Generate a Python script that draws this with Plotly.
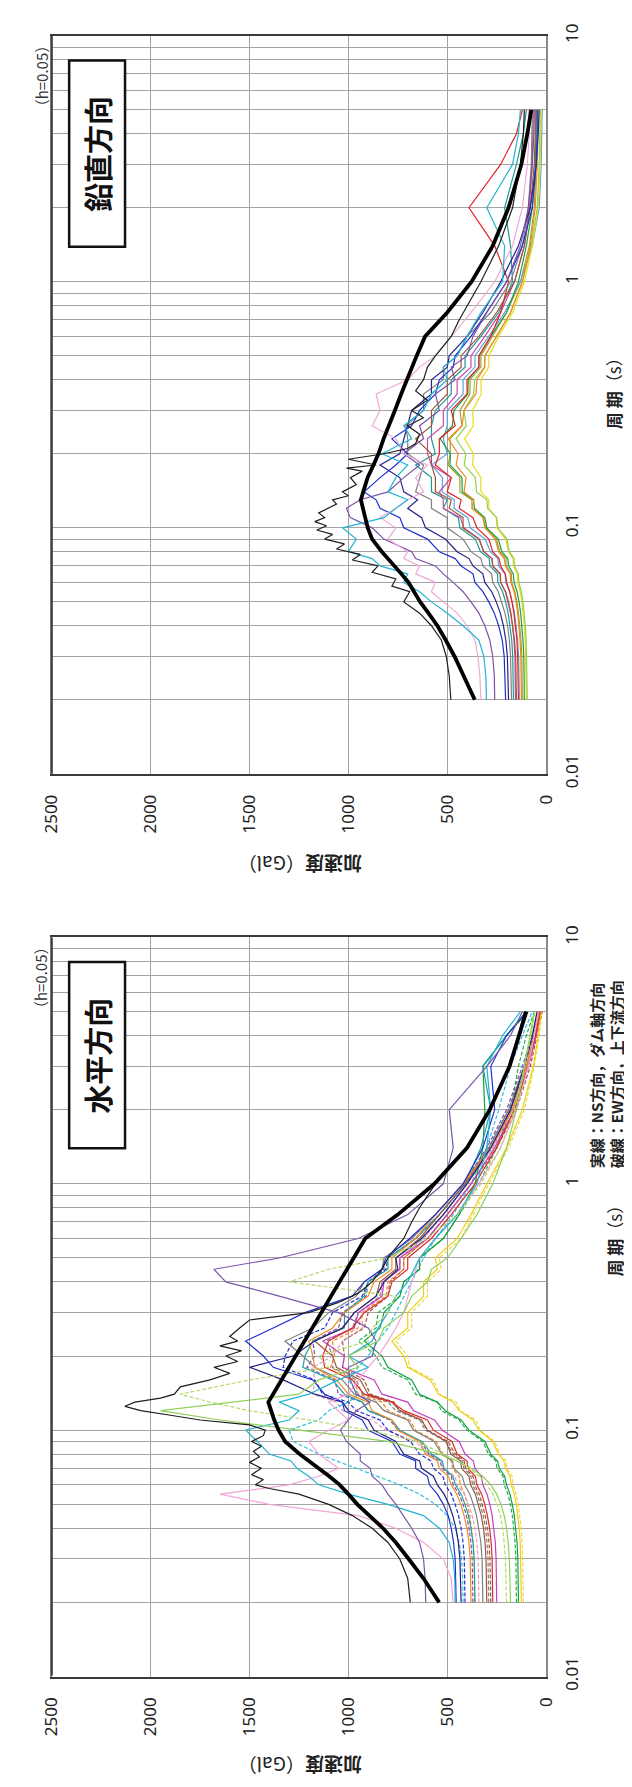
import plotly.graph_objects as go

W, H = 632, 1787

# Common period grid (s)
periods = [0.02, 0.025, 0.03, 0.035, 0.04, 0.045, 0.05, 0.055, 0.06, 0.065, 0.07, 0.075,
           0.08, 0.09, 0.1, 0.11, 0.12, 0.13, 0.14, 0.16, 0.18, 0.2, 0.23, 0.26, 0.3,
           0.35, 0.4, 0.45, 0.5, 0.6, 0.75, 1.0, 1.4, 2.0, 3.0, 4.0, 5.0]

gal_ticks = [0, 500, 1000, 1500, 2000, 2500]
period_ticks = [0.01, 0.1, 1, 10]
period_labels = ["0.01", "0.1", "1", "10"]

# ---------------- vertical component (鉛直方向) ----------------
v_design = [361, 415, 463, 508, 550, 595, 637, 668, 696, 732, 767, 800, 831, 880, 902, 915, 927, 937,
            925, 903, 873, 848, 822, 798, 765, 733, 705, 680, 655, 612, 500, 377, 270, 190, 125, 95, 75]
v_black_periods = [0.02, 0.025, 0.03, 0.035, 0.04, 0.045, 0.05, 0.055, 0.058, 0.062, 0.066, 0.07, 0.074,
                   0.078, 0.082, 0.086, 0.09, 0.094, 0.098, 0.102, 0.106, 0.11, 0.115, 0.12, 0.125, 0.13,
                   0.135, 0.14, 0.15, 0.16, 0.17, 0.175, 0.18, 0.19, 0.2, 0.21, 0.22, 0.24, 0.26, 0.28,
                   0.3, 0.33, 0.36, 0.4, 0.45, 0.5, 0.55, 0.6, 0.7, 0.85, 1.0, 1.4, 2.0, 3.0, 4.0, 5.0]
v_black = [482, 490, 505, 530, 580, 640, 720, 690, 780, 760, 880, 850, 980, 940, 1060, 1020,
           1120, 1080, 1160, 1110, 1170, 1120, 1150, 1100, 1060, 1080, 1000, 1030, 960, 990, 930, 1010,
           860, 1000, 820, 700, 660, 640, 700, 620, 680, 600, 660, 620, 600, 560, 520, 480,
           440, 380, 330, 240, 170, 130, 115, 110]
v_cyan = [302, 305, 315, 340, 420, 500, 580, 640, 720, 700, 840, 880, 1000, 960, 1030, 820, 760, 700,
          800, 760, 700, 830, 680, 720, 620, 580, 500, 520, 450, 400, 330, 220, 210, 300, 170, 140, 130]
v_pink = [330, 335, 345, 360, 400, 450, 520, 580, 560, 660, 640, 720, 700, 800, 760, 840, 760, 700,
          620, 660, 600, 720, 760, 880, 840, 860, 700, 640, 560, 480, 380, 260, 170, 120, 95, 85, 90]
v_purple = [260, 262, 270, 285, 310, 340, 380, 420, 470, 520, 560, 660, 680, 820, 880, 990, 1010, 940,
            800, 720, 640, 720, 620, 640, 540, 560, 460, 480, 400, 370, 300, 200, 130, 90, 70, 62, 60]
v_blue = [205, 207, 212, 222, 240, 262, 290, 320, 360, 370, 430, 460, 540, 600, 720, 740, 840, 860,
          920, 840, 760, 700, 780, 680, 640, 560, 540, 470, 460, 380, 300, 200, 120, 70, 50, 45, 45]
v_navy = [190, 192, 196, 204, 216, 232, 252, 275, 310, 320, 370, 390, 450, 510, 610, 630, 700, 650,
          720, 740, 840, 740, 720, 700, 680, 580, 580, 500, 490, 400, 320, 230, 140, 80, 50, 40, 35]
v_gray = [175, 176, 180, 186, 195, 208, 224, 242, 270, 276, 320, 330, 380, 420, 500, 500, 580, 580,
          660, 640, 620, 700, 700, 710, 620, 620, 520, 520, 450, 400, 280, 180, 120, 90, 75, 72, 70]
v_brown = [150, 151, 154, 160, 168, 178, 190, 205, 230, 232, 270, 274, 315, 340, 420, 420, 490, 480,
           560, 560, 580, 580, 660, 580, 580, 500, 500, 430, 430, 340, 250, 160, 110, 80, 60, 55, 55]
v_red = [140, 141, 144, 148, 155, 163, 173, 184, 200, 206, 230, 238, 270, 290, 350, 370, 440, 430,
         500, 480, 560, 540, 540, 460, 480, 400, 400, 340, 340, 280, 230, 190, 260, 390, 230, 150, 120]
v_orange = [125, 126, 128, 132, 137, 144, 152, 162, 178, 182, 206, 212, 240, 258, 310, 320, 375, 365,
            415, 405, 455, 445, 495, 425, 415, 355, 350, 310, 310, 250, 180, 120, 80, 55, 45, 42, 40]
v_yellow = [100, 101, 103, 106, 110, 116, 123, 131, 144, 146, 165, 168, 190, 205, 248, 252, 290, 290,
            330, 330, 372, 368, 412, 368, 372, 328, 330, 290, 290, 240, 170, 110, 70, 40, 30, 27, 25]
v_green = [110, 111, 113, 117, 122, 129, 137, 147, 162, 166, 190, 194, 224, 242, 300, 310, 362, 368,
           424, 426, 486, 484, 536, 474, 466, 396, 394, 340, 340, 280, 200, 140, 100, 70, 55, 52, 50]
v_lgreen = [95, 96, 98, 101, 105, 110, 117, 125, 138, 140, 160, 162, 186, 198, 244, 250, 296, 300,
            352, 358, 414, 406, 456, 404, 416, 366, 362, 312, 310, 250, 180, 120, 75, 45, 35, 32, 30]
v_teal = [165, 166, 169, 174, 182, 192, 205, 220, 244, 246, 284, 288, 332, 358, 436, 444, 520, 500,
          580, 580, 660, 560, 580, 580, 560, 480, 480, 410, 410, 330, 240, 170, 180, 210, 150, 115, 100]
v_magenta = [155, 156, 158, 163, 170, 180, 192, 206, 230, 232, 270, 274, 316, 338, 416, 434, 520, 520,
             540, 480, 580, 600, 600, 520, 520, 450, 450, 380, 380, 310, 230, 160, 110, 85, 70, 66, 65]
v_olive = [120, 121, 123, 127, 133, 140, 148, 158, 174, 176, 202, 204, 234, 252, 306, 318, 374, 376,
           436, 436, 496, 484, 486, 426, 436, 386, 384, 330, 330, 270, 200, 130, 85, 60, 50, 47, 45]
v_lblue = [135, 136, 139, 144, 151, 160, 171, 184, 204, 208, 240, 244, 282, 308, 384, 396, 466, 464,
           526, 524, 580, 500, 520, 500, 500, 420, 420, 360, 360, 290, 210, 130, 70, 35, 25, 22, 20]

# ---------------- horizontal component (水平方向) ----------------
h_design = [541, 620, 695, 760, 825, 890, 955, 1000, 1044, 1097, 1150, 1200, 1247, 1320, 1353, 1375, 1392, 1405,
            1381, 1339, 1301, 1267, 1222, 1183, 1137, 1088, 1045, 1007, 973, 915, 750, 565, 400, 285, 185, 135, 100]
h_black_periods = [0.02, 0.025, 0.03, 0.035, 0.04, 0.045, 0.05, 0.055, 0.058, 0.06, 0.063, 0.066, 0.07,
                   0.074, 0.078, 0.082, 0.086, 0.09, 0.095, 0.1, 0.105, 0.11, 0.115, 0.12, 0.125, 0.13,
                   0.135, 0.14, 0.15, 0.16, 0.17, 0.18, 0.19, 0.2, 0.21, 0.22, 0.23, 0.24, 0.26, 0.28,
                   0.3, 0.33, 0.36, 0.4, 0.45, 0.5, 0.55, 0.6, 0.7, 0.8, 1.0, 1.4, 2.0, 3.0, 4.0, 5.0]
h_black = [687, 700, 740, 800, 880, 980, 1100, 1250, 1400, 1470, 1430, 1490, 1440, 1500, 1450, 1480,
           1440, 1490, 1430, 1420, 1500, 1750, 1900, 2050, 2130, 2080, 1950, 1880, 1850, 1700, 1600, 1680,
           1560, 1620, 1540, 1650, 1560, 1600, 1550, 1500, 1200, 1050, 950, 880, 830, 800, 760, 720,
           680, 640, 560, 400, 280, 190, 140, 110]
h_lgreen = [180, 182, 186, 192, 200, 212, 228, 250, 280, 320, 380, 450, 540, 800, 1250, 1650, 1950, 1600,
            1250, 1150, 950, 1000, 850, 820, 720, 680, 600, 580, 500, 430, 350, 270, 200, 150, 110, 80, 60]
h_lgreen_d = [200, 202, 206, 212, 220, 232, 248, 270, 300, 340, 390, 450, 520, 650, 900, 1200, 1500, 1700,
              1850, 1500, 1100, 1150, 900, 880, 800, 760, 1300, 1100, 800, 600, 450, 330, 230, 160, 110, 75, 55]
h_purple = [609, 612, 620, 640, 680, 720, 760, 800, 830, 880, 890, 940, 940, 1010, 1040, 1000, 960, 890,
            960, 990, 1000, 880, 860, 900, 1050, 1350, 1620, 1680, 1350, 950, 700, 520, 470, 490, 300, 180, 120]
h_cyan = [460, 462, 470, 490, 540, 620, 800, 1000, 1150, 1200, 1260, 1290, 1400, 1460, 1520, 1300, 1250, 1350,
          1200, 1050, 900, 1000, 880, 850, 800, 760, 700, 670, 640, 560, 450, 350, 300, 280, 300, 220, 130]
h_pink = [470, 480, 520, 620, 760, 950, 1400, 1650, 1300, 1150, 1050, 1100, 1150, 1200, 1100, 1000, 1050, 1100,
          1000, 950, 900, 850, 800, 760, 720, 700, 680, 660, 640, 560, 450, 340, 230, 150, 90, 60, 40]
h_blue = [455, 456, 460, 468, 480, 495, 520, 550, 590, 600, 660, 660, 740, 780, 900, 930, 1020, 1030,
          1120, 1180, 1380, 1430, 1520, 1380, 1220, 980, 920, 830, 810, 690, 560, 420, 320, 260, 280, 200, 100]
h_navy = [430, 432, 436, 444, 456, 472, 492, 516, 550, 570, 630, 640, 720, 760, 870, 900, 1000, 1030,
          1170, 1330, 1500, 1280, 1170, 1030, 970, 860, 820, 750, 760, 630, 520, 400, 280, 180, 110, 70, 45]
h_orange = [380, 381, 384, 390, 400, 415, 432, 452, 480, 495, 540, 550, 610, 640, 750, 780, 880, 900,
            1000, 1060, 1170, 1180, 1200, 1080, 1020, 900, 870, 780, 780, 660, 560, 420, 280, 170, 100, 60, 35]
h_red = [270, 271, 273, 278, 286, 297, 310, 326, 350, 358, 396, 400, 450, 476, 570, 600, 720, 780,
         920, 980, 1120, 1130, 1100, 980, 920, 800, 780, 700, 700, 580, 480, 360, 250, 160, 90, 55, 30]
h_brown = [300, 301, 304, 309, 317, 328, 342, 358, 382, 390, 428, 432, 482, 506, 600, 630, 740, 780,
           900, 940, 1060, 1080, 1170, 1030, 970, 860, 840, 760, 760, 640, 540, 410, 280, 180, 100, 60, 35]
h_gray = [320, 321, 324, 330, 340, 352, 368, 386, 412, 424, 466, 474, 528, 566, 670, 700, 820, 860,
          970, 1030, 1170, 1230, 1320, 1180, 1100, 960, 920, 830, 820, 680, 560, 420, 290, 190, 110, 70, 45]
h_green = [140, 141, 143, 147, 153, 161, 171, 183, 200, 210, 236, 246, 280, 310, 390, 430, 510, 550,
           640, 680, 800, 830, 920, 840, 820, 740, 720, 640, 640, 520, 440, 360, 320, 310, 320, 200, 90]
h_yellow = [125, 126, 128, 131, 136, 143, 151, 161, 176, 183, 206, 213, 242, 270, 340, 370, 440, 470,
            545, 585, 700, 720, 780, 700, 700, 620, 620, 550, 560, 450, 380, 300, 200, 120, 65, 40, 25]
h_teal = [360, 361, 364, 370, 380, 393, 410, 430, 458, 472, 516, 526, 580, 628, 740, 780, 900, 930,
          1020, 1080, 1230, 1220, 1180, 1020, 1020, 920, 900, 800, 800, 660, 540, 410, 330, 280, 320, 200, 100]
h_magenta = [250, 251, 253, 257, 264, 273, 285, 299, 320, 328, 360, 368, 410, 440, 525, 565, 670, 700,
             830, 870, 1030, 1020, 1130, 970, 950, 830, 820, 740, 740, 600, 500, 380, 260, 160, 90, 50, 30]
h_purple_d = [370, 371, 374, 380, 390, 403, 420, 440, 470, 480, 526, 536, 592, 636, 750, 790, 900, 930,
              1050, 1070, 1210, 1170, 1180, 1050, 1030, 910, 900, 820, 820, 680, 560, 420, 300, 200, 120, 70, 40]
h_blue_d = [410, 411, 414, 420, 430, 443, 460, 480, 510, 522, 570, 582, 640, 686, 800, 840, 960, 1000,
            1130, 1170, 1330, 1320, 1280, 1120, 1080, 930, 900, 810, 800, 660, 540, 410, 290, 190, 110, 65, 40]
h_cyan_d = [420, 422, 428, 440, 460, 500, 560, 640, 740, 850, 960, 1060, 1150, 1280, 1300, 1150, 1100, 1000,
            950, 1000, 950, 900, 850, 800, 760, 720, 680, 650, 620, 560, 470, 380, 300, 240, 180, 120, 70]
h_orange_d = [360, 361, 364, 369, 376, 386, 398, 412, 434, 440, 474, 480, 522, 556, 660, 690, 800, 830,
              950, 970, 1090, 1070, 1080, 950, 930, 810, 800, 720, 720, 600, 500, 380, 260, 160, 90, 50, 25]
h_green_d = [150, 151, 153, 157, 163, 171, 181, 193, 212, 218, 248, 254, 292, 320, 400, 440, 530, 550,
             660, 700, 830, 860, 950, 860, 850, 740, 720, 640, 640, 520, 440, 340, 250, 180, 140, 100, 60]
h_gray_d = [290, 291, 294, 299, 307, 318, 332, 348, 372, 380, 416, 424, 470, 508, 610, 640, 760, 800,
            930, 960, 1080, 1080, 1110, 980, 950, 840, 830, 740, 740, 620, 520, 400, 270, 170, 95, 55, 30]
h_pink_d = [340, 341, 344, 350, 360, 374, 392, 414, 450, 460, 520, 528, 600, 660, 810, 880, 1030, 1060,
            1180, 1170, 1180, 1080, 1030, 930, 930, 830, 830, 740, 740, 620, 520, 400, 270, 170, 95, 55, 30]
h_yellow_d = [115, 116, 118, 121, 126, 133, 141, 151, 168, 172, 198, 202, 234, 260, 335, 355, 435, 455,
              540, 570, 690, 700, 760, 680, 680, 600, 600, 530, 540, 430, 370, 290, 190, 110, 60, 35, 20]
h_brown_d = [280, 281, 284, 289, 297, 308, 322, 338, 362, 370, 408, 414, 460, 496, 600, 630, 740, 770,
             890, 920, 1030, 1020, 1030, 920, 900, 800, 790, 720, 720, 600, 500, 380, 250, 150, 80, 45, 20]

top_series = [
    (v_teal, "#1f9a9a", "solid"), (v_olive, "#a4a030", "solid"), (v_lblue, "#5fa0e0", "solid"),
    (v_magenta, "#c84aa8", "solid"), (v_yellow, "#e8dc1a", "solid"), (v_lgreen, "#96d050", "solid"),
    (v_green, "#1ea040", "solid"), (v_orange, "#f08a20", "solid"), (v_red, "#e02424", "solid"),
    (v_brown, "#a0583a", "solid"), (v_gray, "#808080", "solid"), (v_navy, "#24248a", "solid"),
    (v_blue, "#2030d0", "solid"), (v_purple, "#7b52a8", "solid"), (v_pink, "#f0a8d8", "solid"),
    (v_cyan, "#22b4d4", "solid"),
]
bottom_series = [
    (h_yellow_d, "#e6d84a", "dash"), (h_green_d, "#22b050", "dash"), (h_brown_d, "#a0583a", "dash"),
    (h_gray_d, "#808080", "dash"), (h_orange_d, "#f08a20", "dash"), (h_pink_d, "#e89ac6", "dash"),
    (h_cyan_d, "#30c0e0", "dash"), (h_blue_d, "#2030d0", "dash"), (h_purple_d, "#7b52a8", "dash"),
    (h_yellow, "#f0d010", "solid"), (h_green, "#12a040", "solid"), (h_magenta, "#c040c0", "solid"),
    (h_teal, "#1fa0a0", "solid"), (h_brown, "#9c5a3c", "solid"), (h_red, "#dd2a2a", "solid"),
    (h_gray, "#7f7f7f", "solid"), (h_orange, "#f28a24", "solid"), (h_navy, "#202080", "solid"),
    (h_blue, "#1f2fd0", "solid"), (h_pink, "#f2a6d6", "solid"), (h_cyan, "#22b2d2", "solid"),
    (h_purple, "#7b55aa", "solid"), (h_lgreen_d, "#b5d96a", "dash"), (h_lgreen, "#8fd15a", "solid"),
]

for vals, _, _ in top_series + bottom_series + [(v_design, 0, 0), (h_design, 0, 0)]:
    assert len(vals) == len(periods), len(vals)
assert len(v_black) == len(v_black_periods)
assert len(h_black) == len(h_black_periods)

fig = go.Figure()

def add_panel(series, black_p, black_v, design, xa, ya):
    for vals, col, dash in series:
        fig.add_trace(go.Scatter(
            x=vals, y=periods, mode="lines", xaxis=xa, yaxis=ya, showlegend=False,
            line=dict(color=col, width=1.2, dash="4px,2px" if dash == "dash" else "solid"),
            hoverinfo="skip"))
    fig.add_trace(go.Scatter(
        x=black_v, y=black_p, mode="lines", xaxis=xa, yaxis=ya, showlegend=False,
        line=dict(color="#1e1e1e", width=1.2), hoverinfo="skip"))
    fig.add_trace(go.Scatter(
        x=design, y=periods, mode="lines", xaxis=xa, yaxis=ya, showlegend=False,
        line=dict(color="#000000", width=3.8), hoverinfo="skip"))

add_panel(top_series, v_black_periods, v_black, v_design, "x", "y")
add_panel(bottom_series, h_black_periods, h_black, h_design, "x2", "y2")

def px(x):
    return x / W

def py(y):
    return 1 - y / H

# log grid (decade labels only)
grid_vals = []
grid_text = []
for dec in [0.01, 0.1, 1]:
    for m in range(1, 10):
        grid_vals.append(round(dec * m, 4))
        grid_text.append(period_labels[period_ticks.index(dec)] if m == 1 else "")
grid_vals.append(10)
grid_text.append("10")

GRID = "#a3a3a3"
FRAME = "#3a3a3a"
tickfont = dict(family="Noto Sans, DejaVu Sans, sans-serif", size=17, color="#222")

xaxis_common = dict(range=[2500, 0], tickvals=gal_ticks, ticktext=[str(v) for v in gal_ticks],
                    tickangle=-90, showgrid=True, gridcolor=GRID, gridwidth=1,
                    showline=True, linecolor=FRAME, linewidth=2, mirror=True,
                    ticks="", ticklabelstandoff=12, tickfont=tickfont, zeroline=False,
                    domain=[px(33), px(546)])
yaxis_common = dict(type="log", range=[-2, 1], tickvals=grid_vals, ticktext=grid_text,
                    tickangle=-90, side="right", showgrid=True, gridcolor=GRID, gridwidth=1,
                    showline=True, linecolor="#8a8a8a", linewidth=1.5, mirror=True,
                    ticks="", ticklabelstandoff=10, tickfont=tickfont, zeroline=False)

fig.update_layout(
    width=W, height=H, autosize=False,
    margin=dict(l=0, r=0, t=0, b=0),
    paper_bgcolor="white", plot_bgcolor="white",
    xaxis=dict(**xaxis_common, anchor="y"),
    yaxis=dict(**yaxis_common, anchor="x", domain=[py(765), py(16)]),
    xaxis2=dict(**xaxis_common, anchor="y2"),
    yaxis2=dict(**yaxis_common, anchor="x2", domain=[py(1681), py(931)]),
)

panels = [(0, "鉛直方向", 375), (915, "水平方向", 1235)]
shapes = []
annotations = []
jp = "Noto Sans CJK JP"
for d, label, per_y in panels:
    shapes.append(dict(type="line", xref="paper", yref="paper",
                       x0=px(33), x1=px(33), y0=py(765 + d), y1=py(16 + d),
                       line=dict(color=FRAME, width=2)))
    shapes.append(dict(type="rect", xref="paper", yref="paper",
                       x0=px(51), x1=px(109), y0=py(230 + d), y1=py(41 + d),
                       line=dict(color="#111", width=2.5), fillcolor="white"))
    annotations.append(dict(text="<b>" + label + "</b>", x=px(80), y=py(136 + d),
                            xref="paper", yref="paper", showarrow=False, textangle=-90,
                            xanchor="center", yanchor="middle",
                            font=dict(family=jp, size=29, color="#111")))
    annotations.append(dict(text="（h=0.05）", x=px(22), y=py(57 + d),
                            xref="paper", yref="paper", showarrow=False, textangle=-90,
                            xanchor="center", yanchor="middle",
                            font=dict(family=jp, size=15, color="#333")))
    annotations.append(dict(text="<b>加速度</b>（Gal）", x=px(290), y=py(857 + d),
                            xref="paper", yref="paper", showarrow=False, textangle=180,
                            xanchor="center", yanchor="middle",
                            font=dict(family=jp, size=19, color="#222")))
    annotations.append(dict(text="<b>周 期</b>（s）", x=px(616), y=py(per_y),
                            xref="paper", yref="paper", showarrow=False, textangle=-90,
                            xanchor="center", yanchor="middle",
                            font=dict(family=jp, size=17, color="#222")))

annotations.append(dict(text="<b>実線：NS方向，ダム軸方向<br>破線：EW方向，上下流方向</b>",
                        x=px(609), y=py(1070), xref="paper", yref="paper", showarrow=False,
                        textangle=-90, xanchor="center", yanchor="middle", align="left",
                        font=dict(family=jp, size=15, color="#222")))

fig.update_layout(shapes=shapes, annotations=annotations)

fig.write_html("out.html")
